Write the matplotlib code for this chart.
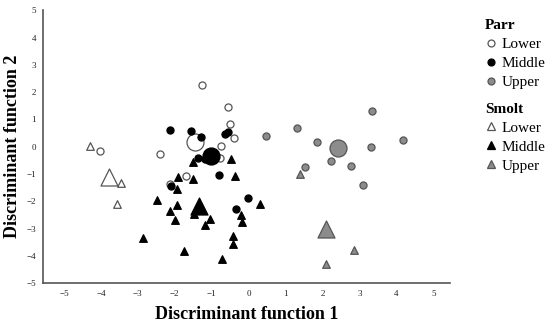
import matplotlib.pyplot as plt
from matplotlib.lines import Line2D

# Datos (función discriminante 1, función discriminante 2)
parr_lower_x = [-1.25, -0.56, -0.51, -0.40, -0.74, -4.03, -2.41, -0.78, -1.70, -2.14]
parr_lower_y = [2.26, 1.44, 0.83, 0.32, 0.03, -0.16, -0.27, -0.40, -1.07, -1.37]
parr_middle_x = [-2.14, -1.57, -1.30, -0.65, -0.55, -1.37, -1.17, -0.81, -2.09, -0.01, -0.35]
parr_middle_y = [0.61, 0.57, 0.34, 0.48, 0.54, -0.40, -0.46, -1.05, -1.44, -1.89, -2.28]
parr_upper_x = [0.48, 1.30, 1.86, 3.35, 3.32, 4.19, 2.24, 2.76, 1.54, 3.10]
parr_upper_y = [0.40, 0.70, 0.18, 1.31, -0.02, 0.26, -0.51, -0.70, -0.74, -1.40]

smolt_lower_x = [-4.30, -3.46, -3.56]
smolt_lower_y = [0.03, -1.34, -2.10]
smolt_middle_x = [-1.50, -0.47, -1.91, -1.51, -0.38, -1.93, -2.48, -1.93, -2.14, -1.48, -1.04,
                  -1.98, -1.19, -0.21, -0.17, 0.32, -0.42, -0.41, -2.87, -1.76, -0.71]
smolt_middle_y = [-0.55, -0.46, -1.10, -1.18, -1.06, -1.55, -1.95, -2.12, -2.36, -2.48, -2.66,
                  -2.70, -2.86, -2.49, -2.77, -2.11, -3.27, -3.55, -3.36, -3.81, -4.10]
smolt_upper_x = [1.38, 2.84, 2.10]
smolt_upper_y = [-0.99, -3.79, -4.31]

# Centroides de grupo
centroid_x = [-1.46, -1.01, 2.41, -3.77, -1.34, 2.10]
centroid_y = [0.16, -0.33, -0.06, -1.12, -2.17, -3.03]

groups = ['Lower', 'Middle', 'Upper']
fills = ['white', 'black', '#8c8c8c']
edges = ['#555555', 'black', '#555555']

plt.rcParams['font.family'] = ['Liberation Serif', 'DejaVu Serif']

fig = plt.figure(figsize=(5.5, 3.28), dpi=100)
ax = fig.add_axes([0.078, 0.137, 0.74, 0.833])

parr = [(parr_lower_x, parr_lower_y), (parr_middle_x, parr_middle_y), (parr_upper_x, parr_upper_y)]
smolt = [(smolt_lower_x, smolt_lower_y), (smolt_middle_x, smolt_middle_y), (smolt_upper_x, smolt_upper_y)]

for i, (x, y) in enumerate(parr):
    ax.scatter(x, y, s=26, marker='o', facecolor=fills[i], edgecolor=edges[i], linewidth=0.9, zorder=3)
    ax.scatter(centroid_x[i], centroid_y[i], s=150, marker='o', facecolor=fills[i],
               edgecolor=edges[i], linewidth=0.9, zorder=3)
for i, (x, y) in enumerate(smolt):
    ax.scatter(x, y, s=30, marker='^', facecolor=fills[i], edgecolor=edges[i], linewidth=0.9, zorder=3)
    ax.scatter(centroid_x[i + 3], centroid_y[i + 3], s=150, marker='^', facecolor=fills[i],
               edgecolor=edges[i], linewidth=0.9, zorder=3)

ax.set_xlim(-5.57, 5.45)
ax.set_ylim(-5, 5.02)
ax.set_xticks(range(-5, 6))
ax.set_yticks(range(-5, 6))
ax.tick_params(length=0, labelsize=6.5, pad=5, labelcolor='#222222')
for s in ['top', 'right']:
    ax.spines[s].set_visible(False)
for s in ['left', 'bottom']:
    ax.spines[s].set_color('#555555')
    ax.spines[s].set_linewidth(1.2)

ax.set_xlabel('Discriminant function 1', fontsize=13, fontweight='bold', labelpad=6)
ax.set_ylabel('Discriminant function 2', fontsize=13, fontweight='bold', labelpad=4)

# Leyendas
h_parr = [Line2D([], [], ls='', marker='o', ms=5, mfc=fills[i], mec=edges[i], mew=0.9) for i in range(3)]
h_smolt = [Line2D([], [], ls='', marker='^', ms=5.5, mfc=fills[i], mec=edges[i], mew=0.9) for i in range(3)]
leg_kw = dict(loc='upper left', frameon=False, fontsize=11,
              title_fontproperties={'weight': 'bold', 'size': 11},
              alignment='left', handlelength=0.8, handletextpad=0.3, labelspacing=0.35,
              borderpad=0.2)
leg1 = ax.legend(h_parr, groups, title='Parr', bbox_to_anchor=(1.06, 1.005), **leg_kw)
ax.add_artist(leg1)
ax.legend(h_smolt, groups, title='Smolt', bbox_to_anchor=(1.06, 0.70), **leg_kw)

fig.savefig('out.png', dpi=100)
